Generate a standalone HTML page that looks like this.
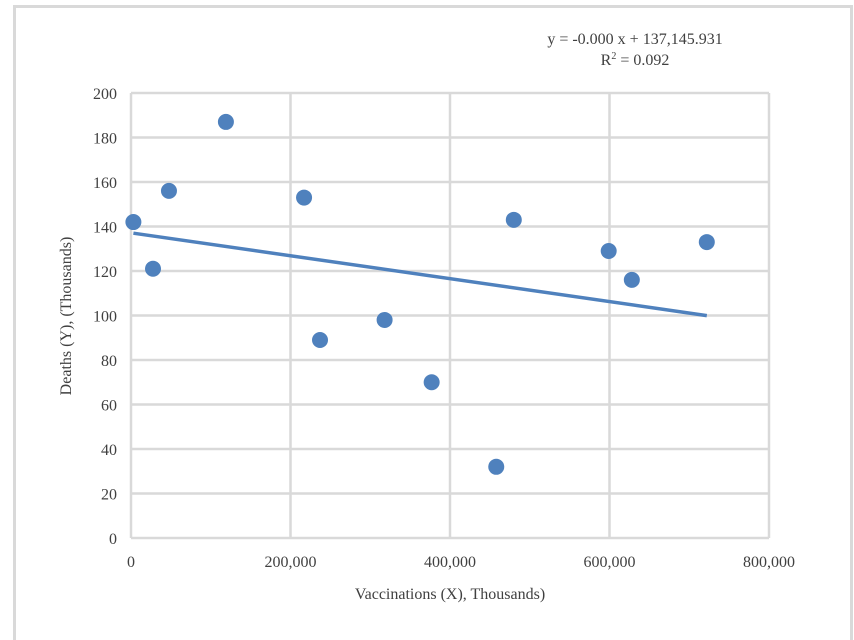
<!DOCTYPE html>
<html><head><meta charset="utf-8"><style>
body{margin:0;background:#fff;overflow:hidden;}
svg{display:block;font-family:"Liberation Serif",serif;}
</style></head><body>
<svg id="chart" width="854" height="640">
<rect x="14.5" y="6.5" width="837" height="700" fill="#fff" stroke="#d9d9d9" stroke-width="3"/>
<g id="grid"></g><g id="ticks"></g><g id="marks"></g>
<text x="635" y="44" font-size="16" text-anchor="middle" fill="#404040">y = -0.000 x + 137,145.931</text>
<text x="635" y="65" font-size="16" text-anchor="middle" fill="#404040">R<tspan dy="-6" font-size="10">2</tspan><tspan dy="6"> = 0.092</tspan></text>
<text x="450" y="599" font-size="16" text-anchor="middle" fill="#404040">Vaccinations (X), Thousands)</text>
<text transform="translate(71,316) rotate(-90)" font-size="16" text-anchor="middle" fill="#404040">Deaths (Y), (Thousands)</text>
</svg>
<script>
const xValues=[3000,27600,47600,119000,217000,237000,318000,377000,458000,480000,599000,628000,722000];
const yValues=[142,121,156,187,153,89,98,70,32,143,129,116,133];
const xTicks=[0,200000,400000,600000,800000];
const yTicks=[0,20,40,60,80,100,120,140,160,180,200];
const trendIntercept=137.146;
const trendSlope=-0.0000515;
const trendRange=[3000,722000];
const NS="http://www.w3.org/2000/svg";
const X0=131,X1=769,Y0=538,Y1=93;
const sx=v=>X0+(v-0)/800000*(X1-X0);
const sy=v=>Y0-(v-0)/200*(Y0-Y1);
function mk(tag,attrs,parent){const e=document.createElementNS(NS,tag);for(const k in attrs)e.setAttribute(k,attrs[k]);parent.appendChild(e);return e;}
const grid=document.getElementById('grid'),ticks=document.getElementById('ticks'),marks=document.getElementById('marks');
yTicks.forEach(t=>{
 const l=mk('line',{x1:X0,x2:X1,y1:sy(t),y2:sy(t),stroke:'#d9d9d9','stroke-width':2.5},grid);
 
 
 const tx=mk('text',{x:X0-14,y:sy(t)+6,'font-size':16,'text-anchor':'end',fill:'#404040'},ticks);
 tx.textContent=t;
 
 
});
xTicks.forEach(t=>{
 const l=mk('line',{x1:sx(t),x2:sx(t),y1:Y1,y2:Y0,stroke:'#d9d9d9','stroke-width':2.5},grid);
 
 
 const tx=mk('text',{x:sx(t),y:Y0+29,'font-size':16,'text-anchor':'middle',fill:'#404040'},ticks);
 tx.textContent=t.toLocaleString('en-US');
 
 
});
const tl=mk('line',{x1:sx(trendRange[0]),y1:sy(trendIntercept+trendSlope*trendRange[0]),x2:sx(trendRange[1]),y2:sy(trendIntercept+trendSlope*trendRange[1]),stroke:'#4f81bd','stroke-width':3.5},marks);


xValues.forEach((x,i)=>{
 const c=mk('circle',{cx:sx(x),cy:sy(yValues[i]),r:8,fill:'#4f81bd'},marks);
 
 
});
</script>
</body></html>
